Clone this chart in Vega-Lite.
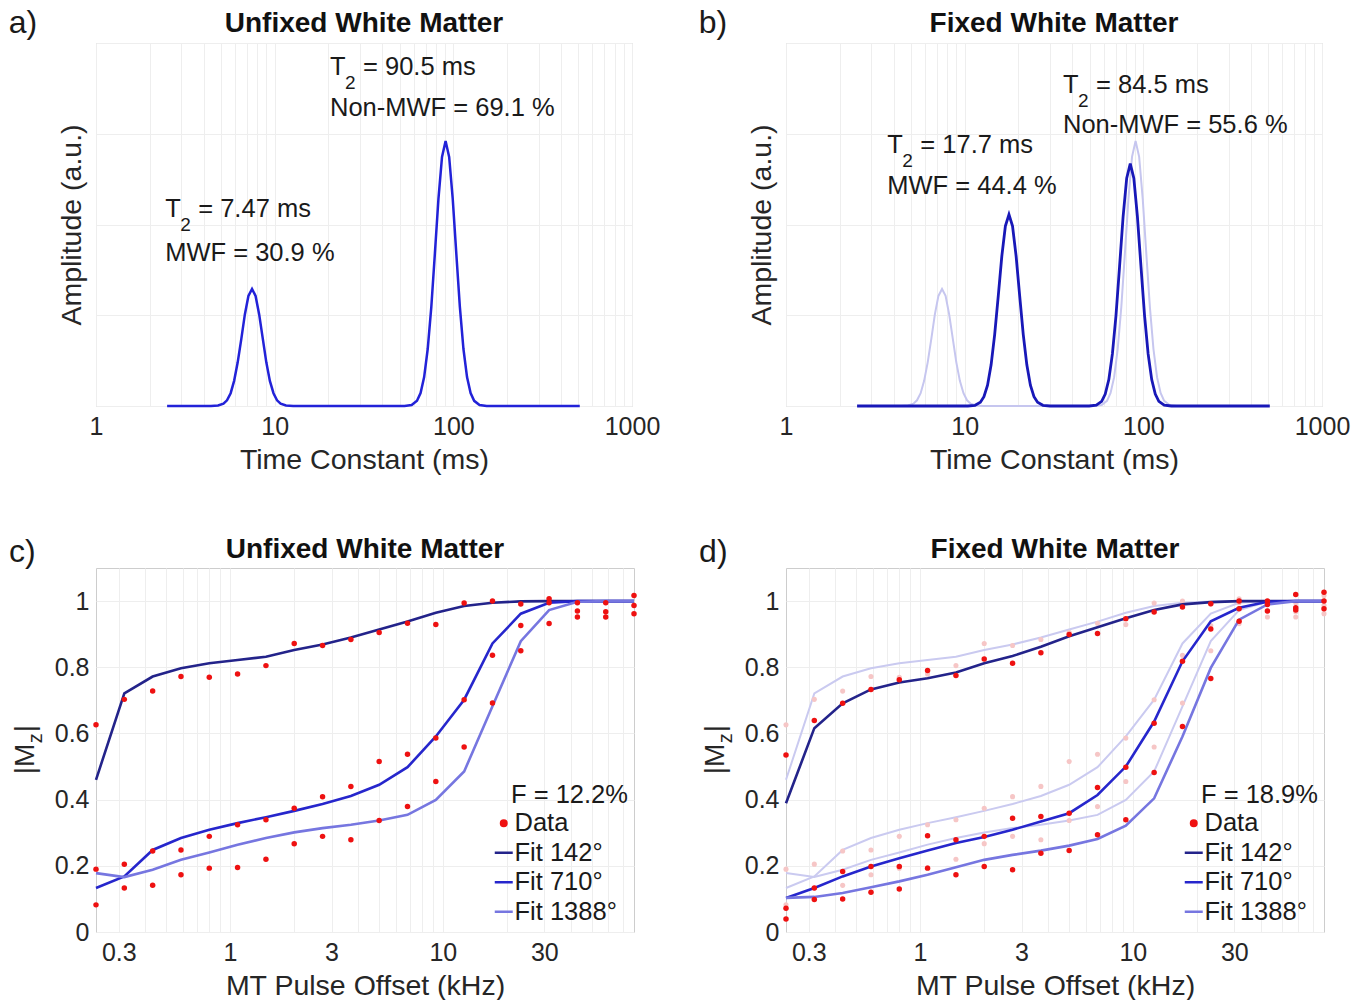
{
  "$schema": "https://vega.github.io/schema/vega-lite/v6.json",
  "padding": {"left": 8, "top": 6, "right": 0, "bottom": 0},
  "background": "white",
  "datasets": {
    "ta": [
      {"t":2.5,"a":0},{"t":4.40,"a":0},{"t":4.82,"a":0.005},{"t":5.17,"a":0.025},{"t":5.41,"a":0.063},{"t":5.67,"a":0.141},{"t":5.93,"a":0.277},{"t":6.21,"a":0.481},{"t":6.51,"a":0.742},{"t":6.81,"a":1.009},{"t":7.13,"a":1.213},{"t":7.47,"a":1.29},{"t":7.82,"a":1.213},{"t":8.19,"a":1.009},{"t":8.58,"a":0.742},{"t":8.98,"a":0.481},{"t":9.40,"a":0.277},{"t":9.85,"a":0.141},{"t":10.31,"a":0.063},{"t":10.80,"a":0.025},{"t":11.57,"a":0.005},{"t":12.69,"a":0},
      {"t":53.29,"a":0},{"t":58.44,"a":0.011},{"t":62.61,"a":0.057},{"t":65.56,"a":0.143},{"t":68.65,"a":0.318},{"t":71.88,"a":0.628},{"t":75.28,"a":1.089},{"t":78.83,"a":1.679},{"t":82.54,"a":2.283},{"t":86.43,"a":2.745},{"t":90.5,"a":2.92},{"t":94.76,"a":2.745},{"t":99.23,"a":2.283},{"t":103.91,"a":1.679},{"t":108.81,"a":1.089},{"t":113.93,"a":0.628},{"t":119.31,"a":0.318},{"t":124.93,"a":0.143},{"t":130.81,"a":0.057},{"t":140.17,"a":0.011},{"t":153.69,"a":0},{"t":510,"a":0}
    ],
    "tb": [
      {"t":2.5,"a":0},{"t":10.42,"a":0},{"t":11.43,"a":0.008},{"t":12.25,"a":0.041},{"t":12.82,"a":0.103},{"t":13.43,"a":0.230},{"t":14.06,"a":0.454},{"t":14.72,"a":0.787},{"t":15.42,"a":1.213},{"t":16.14,"a":1.650},{"t":16.90,"a":1.983},{"t":17.7,"a":2.11},{"t":18.53,"a":1.983},{"t":19.41,"a":1.650},{"t":20.32,"a":1.213},{"t":21.28,"a":0.787},{"t":22.28,"a":0.454},{"t":23.33,"a":0.230},{"t":24.43,"a":0.103},{"t":25.58,"a":0.041},{"t":27.41,"a":0.008},{"t":30.06,"a":0},
      {"t":49.75,"a":0},{"t":54.56,"a":0.010},{"t":58.46,"a":0.052},{"t":61.21,"a":0.131},{"t":64.10,"a":0.291},{"t":67.12,"a":0.574},{"t":70.29,"a":0.996},{"t":73.60,"a":1.535},{"t":77.06,"a":2.088},{"t":80.70,"a":2.510},{"t":84.5,"a":2.67},{"t":88.48,"a":2.510},{"t":92.65,"a":2.088},{"t":97.02,"a":1.535},{"t":101.59,"a":0.996},{"t":106.38,"a":0.574},{"t":111.40,"a":0.291},{"t":116.64,"a":0.131},{"t":122.14,"a":0.052},{"t":130.87,"a":0.010},{"t":143.50,"a":0},{"t":510,"a":0}
    ],
    "ann": [
      {"p":"a","x":2.44,"y":2.171,"y2":1.691,"v":"= 7.47 ms","w":"MWF = 30.9 %"},
      {"p":"a","x":20.4,"y":3.739,"y2":3.284,"v":"= 90.5 ms","w":"Non-MWF = 69.1 %"},
      {"p":"b","x":3.69,"y":2.876,"y2":2.424,"v":"= 17.7 ms","w":"MWF = 44.4 %"},
      {"p":"b","x":35.5,"y":3.541,"y2":3.096,"v":"= 84.5 ms","w":"Non-MWF = 55.6 %"}
    ],
    "lbl": [
      {"p":"a","x":0.3245,"y":4.11,"txt":"a)","tx":31.62,"ty":4.118,"title":"Unfixed White Matter"},
      {"p":"b","x":0.3245,"y":4.11,"txt":"b)","tx":31.62,"ty":4.118,"title":"Fixed White Matter"},
      {"p":"c","x":0.0915,"y":1.117,"txt":"c)","tx":4.309,"ty":1.129,"title":"Unfixed White Matter"},
      {"p":"d","x":0.0915,"y":1.117,"txt":"d)","tx":4.309,"ty":1.129,"title":"Fixed White Matter"}
    ],
    "mzt": [{"x":0.1193,"y":0.477}],
    "uf": [
      {"s":"Fit 142°","f":0.2344,"m":0.46},{"s":"Fit 142°","f":0.3185,"m":0.721},{"s":"Fit 142°","f":0.4328,"m":0.772},{"s":"Fit 142°","f":0.588,"m":0.797},{"s":"Fit 142°","f":0.7988,"m":0.812},{"s":"Fit 142°","f":1.085,"m":0.822},{"s":"Fit 142°","f":1.475,"m":0.832},{"s":"Fit 142°","f":2.003,"m":0.852},{"s":"Fit 142°","f":2.722,"m":0.869},{"s":"Fit 142°","f":3.698,"m":0.890},{"s":"Fit 142°","f":5.023,"m":0.914},{"s":"Fit 142°","f":6.826,"m":0.938},{"s":"Fit 142°","f":9.274,"m":0.965},{"s":"Fit 142°","f":12.6,"m":0.985},{"s":"Fit 142°","f":17.12,"m":0.995},{"s":"Fit 142°","f":23.26,"m":0.999},{"s":"Fit 142°","f":31.6,"m":1},{"s":"Fit 142°","f":42.93,"m":1},{"s":"Fit 142°","f":58.33,"m":1},{"s":"Fit 142°","f":79.2,"m":1},
      {"s":"Fit 710°","f":0.2344,"m":0.133},{"s":"Fit 710°","f":0.3185,"m":0.168},{"s":"Fit 710°","f":0.4328,"m":0.248},{"s":"Fit 710°","f":0.588,"m":0.284},{"s":"Fit 710°","f":0.7988,"m":0.309},{"s":"Fit 710°","f":1.085,"m":0.329},{"s":"Fit 710°","f":1.475,"m":0.347},{"s":"Fit 710°","f":2.003,"m":0.366},{"s":"Fit 710°","f":2.722,"m":0.387},{"s":"Fit 710°","f":3.698,"m":0.411},{"s":"Fit 710°","f":5.023,"m":0.445},{"s":"Fit 710°","f":6.826,"m":0.498},{"s":"Fit 710°","f":9.274,"m":0.591},{"s":"Fit 710°","f":12.6,"m":0.702},{"s":"Fit 710°","f":17.12,"m":0.872},{"s":"Fit 710°","f":23.26,"m":0.962},{"s":"Fit 710°","f":31.6,"m":0.995},{"s":"Fit 710°","f":42.93,"m":1},{"s":"Fit 710°","f":58.33,"m":1},{"s":"Fit 710°","f":79.2,"m":1},
      {"s":"Fit 1388°","f":0.2344,"m":0.178},{"s":"Fit 1388°","f":0.3185,"m":0.166},{"s":"Fit 1388°","f":0.4328,"m":0.188},{"s":"Fit 1388°","f":0.588,"m":0.218},{"s":"Fit 1388°","f":0.7988,"m":0.240},{"s":"Fit 1388°","f":1.085,"m":0.264},{"s":"Fit 1388°","f":1.475,"m":0.284},{"s":"Fit 1388°","f":2.003,"m":0.301},{"s":"Fit 1388°","f":2.722,"m":0.314},{"s":"Fit 1388°","f":3.698,"m":0.324},{"s":"Fit 1388°","f":5.023,"m":0.337},{"s":"Fit 1388°","f":6.826,"m":0.354},{"s":"Fit 1388°","f":9.274,"m":0.399},{"s":"Fit 1388°","f":12.6,"m":0.485},{"s":"Fit 1388°","f":17.12,"m":0.682},{"s":"Fit 1388°","f":23.26,"m":0.879},{"s":"Fit 1388°","f":31.6,"m":0.973},{"s":"Fit 1388°","f":42.93,"m":0.998},{"s":"Fit 1388°","f":58.33,"m":1},{"s":"Fit 1388°","f":79.2,"m":1}
    ],
    "ud": [
      {"s":"Data","f":0.2344,"m":0.626},{"s":"Data","f":0.3185,"m":0.703},{"s":"Data","f":0.4328,"m":0.728},{"s":"Data","f":0.588,"m":0.772},{"s":"Data","f":0.7988,"m":0.770},{"s":"Data","f":1.085,"m":0.780},{"s":"Data","f":1.475,"m":0.805},{"s":"Data","f":2.003,"m":0.872},{"s":"Data","f":2.722,"m":0.866},{"s":"Data","f":3.698,"m":0.884},{"s":"Data","f":5.023,"m":0.905},{"s":"Data","f":6.826,"m":0.933},{"s":"Data","f":9.274,"m":0.929},{"s":"Data","f":12.6,"m":0.994},{"s":"Data","f":17.12,"m":1.0},{"s":"Data","f":23.26,"m":0.991},{"s":"Data","f":31.6,"m":1.007},{"s":"Data","f":42.93,"m":0.995},{"s":"Data","f":58.33,"m":0.995},{"s":"Data","f":79.2,"m":1.017},
      {"s":"Data","f":0.2344,"m":0.190},{"s":"Data","f":0.3185,"m":0.205},{"s":"Data","f":0.4328,"m":0.245},{"s":"Data","f":0.588,"m":0.248},{"s":"Data","f":0.7988,"m":0.289},{"s":"Data","f":1.085,"m":0.324},{"s":"Data","f":1.475,"m":0.339},{"s":"Data","f":2.003,"m":0.374},{"s":"Data","f":2.722,"m":0.409},{"s":"Data","f":3.698,"m":0.440},{"s":"Data","f":5.023,"m":0.515},{"s":"Data","f":6.826,"m":0.537},{"s":"Data","f":9.274,"m":0.586},{"s":"Data","f":12.6,"m":0.702},{"s":"Data","f":17.12,"m":0.836},{"s":"Data","f":23.26,"m":0.926},{"s":"Data","f":31.6,"m":0.995},{"s":"Data","f":42.93,"m":0.970},{"s":"Data","f":58.33,"m":0.968},{"s":"Data","f":79.2,"m":0.987},
      {"s":"Data","f":0.2344,"m":0.082},{"s":"Data","f":0.3185,"m":0.133},{"s":"Data","f":0.4328,"m":0.141},{"s":"Data","f":0.588,"m":0.173},{"s":"Data","f":0.7988,"m":0.193},{"s":"Data","f":1.085,"m":0.195},{"s":"Data","f":1.475,"m":0.220},{"s":"Data","f":2.003,"m":0.267},{"s":"Data","f":2.722,"m":0.289},{"s":"Data","f":3.698,"m":0.279},{"s":"Data","f":5.023,"m":0.337},{"s":"Data","f":6.826,"m":0.379},{"s":"Data","f":9.274,"m":0.455},{"s":"Data","f":12.6,"m":0.559},{"s":"Data","f":17.12,"m":0.692},{"s":"Data","f":23.26,"m":0.850},{"s":"Data","f":31.6,"m":0.932},{"s":"Data","f":42.93,"m":0.952},{"s":"Data","f":58.33,"m":0.952},{"s":"Data","f":79.2,"m":0.962}
    ],
    "ff": [
      {"s":"Fit 142°","f":0.2344,"m":0.389},{"s":"Fit 142°","f":0.3185,"m":0.616},{"s":"Fit 142°","f":0.4328,"m":0.691},{"s":"Fit 142°","f":0.588,"m":0.733},{"s":"Fit 142°","f":0.7988,"m":0.754},{"s":"Fit 142°","f":1.085,"m":0.767},{"s":"Fit 142°","f":1.475,"m":0.784},{"s":"Fit 142°","f":2.003,"m":0.812},{"s":"Fit 142°","f":2.722,"m":0.834},{"s":"Fit 142°","f":3.698,"m":0.862},{"s":"Fit 142°","f":5.023,"m":0.894},{"s":"Fit 142°","f":6.826,"m":0.921},{"s":"Fit 142°","f":9.274,"m":0.948},{"s":"Fit 142°","f":12.6,"m":0.973},{"s":"Fit 142°","f":17.12,"m":0.990},{"s":"Fit 142°","f":23.26,"m":0.997},{"s":"Fit 142°","f":31.6,"m":1},{"s":"Fit 142°","f":42.93,"m":1},{"s":"Fit 142°","f":58.33,"m":1},{"s":"Fit 142°","f":79.2,"m":1},
      {"s":"Fit 710°","f":0.2344,"m":0.103},{"s":"Fit 710°","f":0.3185,"m":0.133},{"s":"Fit 710°","f":0.4328,"m":0.168},{"s":"Fit 710°","f":0.588,"m":0.198},{"s":"Fit 710°","f":0.7988,"m":0.223},{"s":"Fit 710°","f":1.085,"m":0.246},{"s":"Fit 710°","f":1.475,"m":0.269},{"s":"Fit 710°","f":2.003,"m":0.287},{"s":"Fit 710°","f":2.722,"m":0.309},{"s":"Fit 710°","f":3.698,"m":0.334},{"s":"Fit 710°","f":5.023,"m":0.359},{"s":"Fit 710°","f":6.826,"m":0.414},{"s":"Fit 710°","f":9.274,"m":0.500},{"s":"Fit 710°","f":12.6,"m":0.636},{"s":"Fit 710°","f":17.12,"m":0.818},{"s":"Fit 710°","f":23.26,"m":0.939},{"s":"Fit 710°","f":31.6,"m":0.980},{"s":"Fit 710°","f":42.93,"m":0.998},{"s":"Fit 710°","f":58.33,"m":1},{"s":"Fit 710°","f":79.2,"m":1},
      {"s":"Fit 1388°","f":0.2344,"m":0.103},{"s":"Fit 1388°","f":0.3185,"m":0.106},{"s":"Fit 1388°","f":0.4328,"m":0.118},{"s":"Fit 1388°","f":0.588,"m":0.135},{"s":"Fit 1388°","f":0.7988,"m":0.153},{"s":"Fit 1388°","f":1.085,"m":0.173},{"s":"Fit 1388°","f":1.475,"m":0.196},{"s":"Fit 1388°","f":2.003,"m":0.218},{"s":"Fit 1388°","f":2.722,"m":0.233},{"s":"Fit 1388°","f":3.698,"m":0.246},{"s":"Fit 1388°","f":5.023,"m":0.261},{"s":"Fit 1388°","f":6.826,"m":0.281},{"s":"Fit 1388°","f":9.274,"m":0.321},{"s":"Fit 1388°","f":12.6,"m":0.404},{"s":"Fit 1388°","f":17.12,"m":0.591},{"s":"Fit 1388°","f":23.26,"m":0.798},{"s":"Fit 1388°","f":31.6,"m":0.944},{"s":"Fit 1388°","f":42.93,"m":0.990},{"s":"Fit 1388°","f":58.33,"m":1},{"s":"Fit 1388°","f":79.2,"m":1}
    ],
    "fd": [
      {"s":"Data","f":0.2344,"m":0.535},{"s":"Data","f":0.3185,"m":0.639},{"s":"Data","f":0.4328,"m":0.691},{"s":"Data","f":0.588,"m":0.733},{"s":"Data","f":0.7988,"m":0.762},{"s":"Data","f":1.085,"m":0.790},{"s":"Data","f":1.475,"m":0.775},{"s":"Data","f":2.003,"m":0.825},{"s":"Data","f":2.722,"m":0.812},{"s":"Data","f":3.698,"m":0.844},{"s":"Data","f":5.023,"m":0.899},{"s":"Data","f":6.826,"m":0.902},{"s":"Data","f":9.274,"m":0.947},{"s":"Data","f":12.6,"m":0.967},{"s":"Data","f":17.12,"m":0.982},{"s":"Data","f":23.26,"m":0.992},{"s":"Data","f":31.6,"m":1.0},{"s":"Data","f":42.93,"m":1.0},{"s":"Data","f":58.33,"m":1.020},{"s":"Data","f":79.2,"m":1.027},
      {"s":"Data","f":0.2344,"m":0.072},{"s":"Data","f":0.3185,"m":0.133},{"s":"Data","f":0.4328,"m":0.183},{"s":"Data","f":0.588,"m":0.198},{"s":"Data","f":0.7988,"m":0.198},{"s":"Data","f":1.085,"m":0.291},{"s":"Data","f":1.475,"m":0.279},{"s":"Data","f":2.003,"m":0.289},{"s":"Data","f":2.722,"m":0.344},{"s":"Data","f":3.698,"m":0.349},{"s":"Data","f":5.023,"m":0.359},{"s":"Data","f":6.826,"m":0.437},{"s":"Data","f":9.274,"m":0.498},{"s":"Data","f":12.6,"m":0.631},{"s":"Data","f":17.12,"m":0.818},{"s":"Data","f":23.26,"m":0.916},{"s":"Data","f":31.6,"m":0.977},{"s":"Data","f":42.93,"m":0.990},{"s":"Data","f":58.33,"m":0.980},{"s":"Data","f":79.2,"m":1.0},
      {"s":"Data","f":0.2344,"m":0.039},{"s":"Data","f":0.3185,"m":0.098},{"s":"Data","f":0.4328,"m":0.100},{"s":"Data","f":0.588,"m":0.120},{"s":"Data","f":0.7988,"m":0.130},{"s":"Data","f":1.085,"m":0.193},{"s":"Data","f":1.475,"m":0.173},{"s":"Data","f":2.003,"m":0.198},{"s":"Data","f":2.722,"m":0.188},{"s":"Data","f":3.698,"m":0.238},{"s":"Data","f":5.023,"m":0.246},{"s":"Data","f":6.826,"m":0.294},{"s":"Data","f":9.274,"m":0.339},{"s":"Data","f":12.6,"m":0.482},{"s":"Data","f":17.12,"m":0.621},{"s":"Data","f":23.26,"m":0.766},{"s":"Data","f":31.6,"m":0.939},{"s":"Data","f":42.93,"m":0.970},{"s":"Data","f":58.33,"m":0.973},{"s":"Data","f":79.2,"m":0.977}
    ]
  },
  "columns": 2,
  "spacing": {"row": 61, "column": 37},
  "resolve": {"scale": {"color": "independent"}, "legend": {"color": "independent"}},
  "concat": [
    {
      "width": 536, "height": 363,
      "layer": [
        {
          "data": {"name": "ta"},
          "mark": {"type": "line", "color": "#2222d8", "strokeWidth": 2.5},
          "encoding": {
            "x": {"field": "t", "type": "quantitative", "scale": {"type": "log", "domain": [1, 1000], "nice": false},
                  "axis": {"title": "Time Constant (ms)", "values": [1,2,3,4,5,6,7,8,9,10,20,30,40,50,60,70,80,90,100,200,300,400,500,600,700,800,900,1000], "format": "d", "labelExpr": "(datum.value==1||datum.value==10||datum.value==100||datum.value==1000) ? datum.label : ''", "labelPadding": 8, "titlePadding": 6}},
            "y": {"field": "a", "type": "quantitative", "scale": {"domain": [0, 4], "nice": false},
                  "axis": {"title": "Amplitude (a.u.)", "values": [0,1,2,3,4], "labels": false, "titlePadding": 10}}
          }
        },
        {
          "data": {"name": "ann"}, "transform": [{"filter": "datum.p == 'a'"}],
          "mark": {"type": "text", "align": "left", "baseline": "middle", "fontSize": 25.5, "color": "#1a1a1a"},
          "encoding": {"x": {"field": "x", "type": "quantitative"}, "y": {"field": "y", "type": "quantitative"}, "text": {"value": "T"}}
        },
        {
          "data": {"name": "ann"}, "transform": [{"filter": "datum.p == 'a'"}],
          "mark": {"type": "text", "align": "left", "baseline": "middle", "fontSize": 19, "dx": 15, "dy": 16, "color": "#1a1a1a"},
          "encoding": {"x": {"field": "x", "type": "quantitative"}, "y": {"field": "y", "type": "quantitative"}, "text": {"value": "2"}}
        },
        {
          "data": {"name": "ann"}, "transform": [{"filter": "datum.p == 'a'"}],
          "mark": {"type": "text", "align": "left", "baseline": "middle", "fontSize": 25.5, "dx": 33, "color": "#1a1a1a"},
          "encoding": {"x": {"field": "x", "type": "quantitative"}, "y": {"field": "y", "type": "quantitative"}, "text": {"field": "v"}}
        },
        {
          "data": {"name": "ann"}, "transform": [{"filter": "datum.p == 'a'"}],
          "mark": {"type": "text", "align": "left", "baseline": "middle", "fontSize": 25.5, "color": "#1a1a1a"},
          "encoding": {"x": {"field": "x", "type": "quantitative"}, "y": {"field": "y2", "type": "quantitative"}, "text": {"field": "w"}}
        },
        {
          "data": {"name": "lbl"}, "transform": [{"filter": "datum.p == 'a'"}],
          "mark": {"type": "text", "align": "left", "baseline": "alphabetic", "fontSize": 32, "color": "#1a1a1a"},
          "encoding": {"x": {"field": "x", "type": "quantitative"}, "y": {"field": "y", "type": "quantitative"}, "text": {"field": "txt"}}
        },
        {
          "data": {"name": "lbl"}, "transform": [{"filter": "datum.p == 'a'"}],
          "mark": {"type": "text", "align": "center", "baseline": "alphabetic", "fontSize": 28, "fontWeight": "bold", "color": "#111111"},
          "encoding": {"x": {"field": "tx", "type": "quantitative"}, "y": {"field": "ty", "type": "quantitative"}, "text": {"field": "title"}}
        }
      ]
    },
    {
      "width": 536, "height": 363,
      "layer": [
        {
          "data": {"name": "ta"},
          "mark": {"type": "line", "color": "#c6c6ef", "strokeWidth": 2},
          "encoding": {
            "x": {"field": "t", "type": "quantitative", "scale": {"type": "log", "domain": [1, 1000], "nice": false},
                  "axis": {"title": "Time Constant (ms)", "values": [1,2,3,4,5,6,7,8,9,10,20,30,40,50,60,70,80,90,100,200,300,400,500,600,700,800,900,1000], "format": "d", "labelExpr": "(datum.value==1||datum.value==10||datum.value==100||datum.value==1000) ? datum.label : ''", "labelPadding": 8, "titlePadding": 6}},
            "y": {"field": "a", "type": "quantitative", "scale": {"domain": [0, 4], "nice": false},
                  "axis": {"title": "Amplitude (a.u.)", "values": [0,1,2,3,4], "labels": false, "titlePadding": 10}}
          }
        },
        {
          "data": {"name": "tb"},
          "mark": {"type": "line", "color": "#1818b8", "strokeWidth": 2.8},
          "encoding": {"x": {"field": "t", "type": "quantitative"}, "y": {"field": "a", "type": "quantitative"}}
        },
        {
          "data": {"name": "ann"}, "transform": [{"filter": "datum.p == 'b'"}],
          "mark": {"type": "text", "align": "left", "baseline": "middle", "fontSize": 25.5, "color": "#1a1a1a"},
          "encoding": {"x": {"field": "x", "type": "quantitative"}, "y": {"field": "y", "type": "quantitative"}, "text": {"value": "T"}}
        },
        {
          "data": {"name": "ann"}, "transform": [{"filter": "datum.p == 'b'"}],
          "mark": {"type": "text", "align": "left", "baseline": "middle", "fontSize": 19, "dx": 15, "dy": 16, "color": "#1a1a1a"},
          "encoding": {"x": {"field": "x", "type": "quantitative"}, "y": {"field": "y", "type": "quantitative"}, "text": {"value": "2"}}
        },
        {
          "data": {"name": "ann"}, "transform": [{"filter": "datum.p == 'b'"}],
          "mark": {"type": "text", "align": "left", "baseline": "middle", "fontSize": 25.5, "dx": 33, "color": "#1a1a1a"},
          "encoding": {"x": {"field": "x", "type": "quantitative"}, "y": {"field": "y", "type": "quantitative"}, "text": {"field": "v"}}
        },
        {
          "data": {"name": "ann"}, "transform": [{"filter": "datum.p == 'b'"}],
          "mark": {"type": "text", "align": "left", "baseline": "middle", "fontSize": 25.5, "color": "#1a1a1a"},
          "encoding": {"x": {"field": "x", "type": "quantitative"}, "y": {"field": "y2", "type": "quantitative"}, "text": {"field": "w"}}
        },
        {
          "data": {"name": "lbl"}, "transform": [{"filter": "datum.p == 'b'"}],
          "mark": {"type": "text", "align": "left", "baseline": "alphabetic", "fontSize": 32, "color": "#1a1a1a"},
          "encoding": {"x": {"field": "x", "type": "quantitative"}, "y": {"field": "y", "type": "quantitative"}, "text": {"field": "txt"}}
        },
        {
          "data": {"name": "lbl"}, "transform": [{"filter": "datum.p == 'b'"}],
          "mark": {"type": "text", "align": "center", "baseline": "alphabetic", "fontSize": 28, "fontWeight": "bold", "color": "#111111"},
          "encoding": {"x": {"field": "tx", "type": "quantitative"}, "y": {"field": "ty", "type": "quantitative"}, "text": {"field": "title"}}
        }
      ]
    },
    {
      "width": 538, "height": 364,
      "layer": [
        {
          "data": {"name": "uf"},
          "mark": {"type": "line", "strokeWidth": 2.6},
          "encoding": {
            "x": {"field": "f", "type": "quantitative", "scale": {"type": "log", "domain": [0.2344, 79.2], "nice": false},
                  "axis": {"title": "MT Pulse Offset (kHz)", "values": [0.3,0.4,0.5,0.6,0.7,0.8,0.9,1,2,3,4,5,6,7,8,9,10,20,30,40,50,60,70], "format": "~g", "labelExpr": "(datum.value==0.3||datum.value==1||datum.value==3||datum.value==10||datum.value==30) ? datum.label : ''", "labelPadding": 8, "titlePadding": 6}},
            "y": {"field": "m", "type": "quantitative", "scale": {"domain": [0, 1.1], "nice": false},
                  "axis": {"title": null, "values": [0,0.2,0.4,0.6,0.8,1], "format": "~g", "labelPadding": 7}},
            "color": {"field": "s", "type": "nominal",
                      "scale": {"domain": ["Data","Fit 142°","Fit 710°","Fit 1388°"], "range": ["#ee1111","#23238a","#2626cc","#7676e0"]},
                      "legend": {"title": "F = 12.2%",
                        "encode": {"symbols": {"update": {
                          "shape": {"signal": "datum.value === 'Data' ? 'circle' : 'stroke'"},
                          "size": {"signal": "datum.value === 'Data' ? 30 : 324"},
                          "fill": {"signal": "datum.value === 'Data' ? '#ee1111' : 'transparent'"},
                          "stroke": {"signal": "datum.value === 'Data' ? 'transparent' : datum.value === 'Fit 142°' ? '#23238a' : datum.value === 'Fit 710°' ? '#2626cc' : '#7676e0'"},
                          "strokeWidth": {"value": 2.5},
                          "opacity": {"value": 1}
                        }}, "title": {"update": {"dx": {"value": 20}}}}}}
          }
        },
        {
          "data": {"name": "ud"},
          "mark": {"type": "circle", "size": 30, "opacity": 1},
          "encoding": {"x": {"field": "f", "type": "quantitative"}, "y": {"field": "m", "type": "quantitative"}, "color": {"field": "s", "type": "nominal"}}
        },
        {
          "data": {"name": "mzt"},
          "mark": {"type": "text", "align": "left", "baseline": "alphabetic", "angle": 270, "fontSize": 28, "color": "#262626"},
          "encoding": {"x": {"field": "x", "type": "quantitative"}, "y": {"field": "y", "type": "quantitative"}, "text": {"value": "|M"}}
        },
        {
          "data": {"name": "mzt"},
          "mark": {"type": "text", "align": "left", "baseline": "alphabetic", "angle": 270, "fontSize": 20, "dx": 31, "dy": 8, "color": "#262626"},
          "encoding": {"x": {"field": "x", "type": "quantitative"}, "y": {"field": "y", "type": "quantitative"}, "text": {"value": "z"}}
        },
        {
          "data": {"name": "mzt"},
          "mark": {"type": "text", "align": "left", "baseline": "alphabetic", "angle": 270, "fontSize": 28, "dx": 42, "color": "#262626"},
          "encoding": {"x": {"field": "x", "type": "quantitative"}, "y": {"field": "y", "type": "quantitative"}, "text": {"value": "|"}}
        },
        {
          "data": {"name": "lbl"}, "transform": [{"filter": "datum.p == 'c'"}],
          "mark": {"type": "text", "align": "left", "baseline": "alphabetic", "fontSize": 32, "color": "#1a1a1a"},
          "encoding": {"x": {"field": "x", "type": "quantitative"}, "y": {"field": "y", "type": "quantitative"}, "text": {"field": "txt"}}
        },
        {
          "data": {"name": "lbl"}, "transform": [{"filter": "datum.p == 'c'"}],
          "mark": {"type": "text", "align": "center", "baseline": "alphabetic", "fontSize": 28, "fontWeight": "bold", "color": "#111111"},
          "encoding": {"x": {"field": "tx", "type": "quantitative"}, "y": {"field": "ty", "type": "quantitative"}, "text": {"field": "title"}}
        }
      ]
    },
    {
      "width": 538, "height": 364,
      "layer": [
        {
          "data": {"name": "uf"},
          "mark": {"type": "line", "strokeWidth": 2, "color": "#cacaf0"},
          "encoding": {
            "x": {"field": "f", "type": "quantitative", "scale": {"type": "log", "domain": [0.2344, 79.2], "nice": false},
                  "axis": {"title": "MT Pulse Offset (kHz)", "values": [0.3,0.4,0.5,0.6,0.7,0.8,0.9,1,2,3,4,5,6,7,8,9,10,20,30,40,50,60,70], "format": "~g", "labelExpr": "(datum.value==0.3||datum.value==1||datum.value==3||datum.value==10||datum.value==30) ? datum.label : ''", "labelPadding": 8, "titlePadding": 6}},
            "y": {"field": "m", "type": "quantitative", "scale": {"domain": [0, 1.1], "nice": false},
                  "axis": {"title": null, "values": [0,0.2,0.4,0.6,0.8,1], "format": "~g", "labelPadding": 7}},
            "detail": {"field": "s", "type": "nominal"}
          }
        },
        {
          "data": {"name": "ud"},
          "mark": {"type": "circle", "size": 26, "opacity": 1, "color": "#f6c6c6"},
          "encoding": {"x": {"field": "f", "type": "quantitative"}, "y": {"field": "m", "type": "quantitative"}}
        },
        {
          "data": {"name": "ff"},
          "mark": {"type": "line", "strokeWidth": 2.6},
          "encoding": {
            "x": {"field": "f", "type": "quantitative"}, "y": {"field": "m", "type": "quantitative"},
            "color": {"field": "s", "type": "nominal",
                      "scale": {"domain": ["Data","Fit 142°","Fit 710°","Fit 1388°"], "range": ["#ee1111","#23238a","#2626cc","#7676e0"]},
                      "legend": {"title": "F = 18.9%",
                        "encode": {"symbols": {"update": {
                          "shape": {"signal": "datum.value === 'Data' ? 'circle' : 'stroke'"},
                          "size": {"signal": "datum.value === 'Data' ? 30 : 324"},
                          "fill": {"signal": "datum.value === 'Data' ? '#ee1111' : 'transparent'"},
                          "stroke": {"signal": "datum.value === 'Data' ? 'transparent' : datum.value === 'Fit 142°' ? '#23238a' : datum.value === 'Fit 710°' ? '#2626cc' : '#7676e0'"},
                          "strokeWidth": {"value": 2.5},
                          "opacity": {"value": 1}
                        }}, "title": {"update": {"dx": {"value": 20}}}}}}
          }
        },
        {
          "data": {"name": "fd"},
          "mark": {"type": "circle", "size": 30, "opacity": 1},
          "encoding": {"x": {"field": "f", "type": "quantitative"}, "y": {"field": "m", "type": "quantitative"}, "color": {"field": "s", "type": "nominal"}}
        },
        {
          "data": {"name": "mzt"},
          "mark": {"type": "text", "align": "left", "baseline": "alphabetic", "angle": 270, "fontSize": 28, "color": "#262626"},
          "encoding": {"x": {"field": "x", "type": "quantitative"}, "y": {"field": "y", "type": "quantitative"}, "text": {"value": "|M"}}
        },
        {
          "data": {"name": "mzt"},
          "mark": {"type": "text", "align": "left", "baseline": "alphabetic", "angle": 270, "fontSize": 20, "dx": 31, "dy": 8, "color": "#262626"},
          "encoding": {"x": {"field": "x", "type": "quantitative"}, "y": {"field": "y", "type": "quantitative"}, "text": {"value": "z"}}
        },
        {
          "data": {"name": "mzt"},
          "mark": {"type": "text", "align": "left", "baseline": "alphabetic", "angle": 270, "fontSize": 28, "dx": 42, "color": "#262626"},
          "encoding": {"x": {"field": "x", "type": "quantitative"}, "y": {"field": "y", "type": "quantitative"}, "text": {"value": "|"}}
        },
        {
          "data": {"name": "lbl"}, "transform": [{"filter": "datum.p == 'd'"}],
          "mark": {"type": "text", "align": "left", "baseline": "alphabetic", "fontSize": 32, "color": "#1a1a1a"},
          "encoding": {"x": {"field": "x", "type": "quantitative"}, "y": {"field": "y", "type": "quantitative"}, "text": {"field": "txt"}}
        },
        {
          "data": {"name": "lbl"}, "transform": [{"filter": "datum.p == 'd'"}],
          "mark": {"type": "text", "align": "center", "baseline": "alphabetic", "fontSize": 28, "fontWeight": "bold", "color": "#111111"},
          "encoding": {"x": {"field": "tx", "type": "quantitative"}, "y": {"field": "ty", "type": "quantitative"}, "text": {"field": "title"}}
        }
      ]
    }
  ],
  "config": {
    "font": "Liberation Sans",
    "view": {"stroke": "#cdcdcd", "strokeWidth": 1},
    "axis": {"labelFont": "Liberation Sans", "labelFontSize": 25, "labelColor": "#262626", "titleFont": "Liberation Sans", "titleFontSize": 28.5, "titleFontWeight": "normal", "titleColor": "#262626", "gridColor": "#eeeeee", "gridWidth": 1, "domain": false, "ticks": false, "labelFlush": false, "labelOverlap": false},
    "legend": {"orient": "bottom-right", "offset": 6, "padding": 0, "labelFont": "Liberation Sans", "labelFontSize": 25.5, "labelColor": "#1a1a1a", "titleFont": "Liberation Sans", "titleFontSize": 25.5, "titleFontWeight": "normal", "titleColor": "#1a1a1a", "titlePadding": 2, "symbolSize": 324, "symbolType": "stroke", "symbolStrokeWidth": 2.5, "labelOffset": -2, "rowPadding": 2.5, "titleLimit": 300, "labelLimit": 300}
  }
}
